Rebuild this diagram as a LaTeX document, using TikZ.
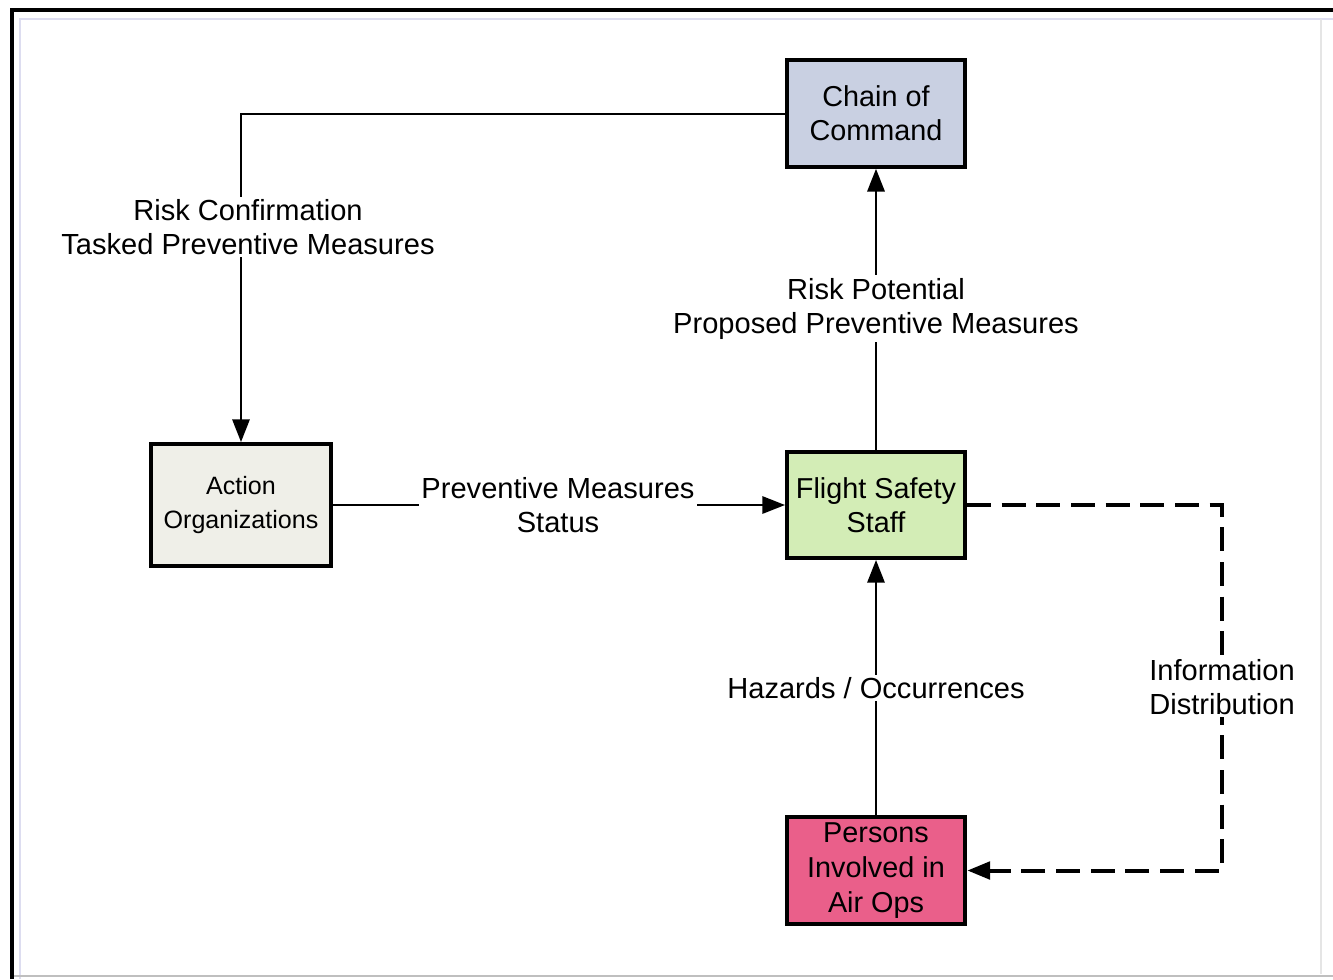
\documentclass[tikz,border=0pt]{standalone}
\usepackage{fontspec}
\setmainfont{Liberation Sans}
\usetikzlibrary{arrows.meta}
\definecolor{cmdfill}{HTML}{C9D0E2}
\definecolor{actfill}{HTML}{EFEFE8}
\definecolor{fssfill}{HTML}{D3EDB6}
\definecolor{perfill}{HTML}{EA5F8A}
\definecolor{innerline}{HTML}{DDDDF0}
\begin{document}
\begin{tikzpicture}[x=0.75pt,y=-0.75pt,
  box/.style={draw=black,line width=3pt,align=center,inner sep=0pt,font=\fontsize{21.6}{25.5}\selectfont},
  conn/.style={line width=1.5pt,-{Triangle[length=17pt,width=13pt]}},
  dconn/.style={line width=3pt,dash pattern=on 18pt off 8pt,-{Triangle[length=17pt,width=13pt]}},
  lbl/.style={fill=white,align=center,inner sep=2pt,font=\fontsize{21.8}{25.5}\selectfont}]
\useasboundingbox (0,0) rectangle (1333,979);
\fill[white] (0,0) rectangle (1333,979);
% frame
\draw[innerline,line width=2.2pt] (20,979) -- (20,19) -- (1333,19);
\draw[black!25,line width=1.5pt] (14,976) -- (1333,976);
\draw[black!10,line width=1pt] (1321,19) -- (1321,974);
\draw[black,line width=3.2pt] (12,979) -- (12,10) -- (1333,10);
% boxes
\node[box,fill=cmdfill,minimum width=133.5pt,minimum height=80pt] (cmd) at (876,113.5) {Chain of\\Command};
\node[box,fill=actfill,minimum width=135pt,minimum height=91.5pt,font=\fontsize{18.8}{25.5}\selectfont] (act) at (241,505) {Action\\Organizations};
\node[box,fill=fssfill,minimum width=133.5pt,minimum height=79.5pt] (fss) at (876,505) {Flight Safety\\Staff};
\node[box,fill=perfill,minimum width=134pt,minimum height=80pt,font=\fontsize{21.6}{26.2}\selectfont] (per) at (876,870.5) {Persons\\Involved in\\Air Ops};
% connectors
\coordinate (c1) at (act.north |- cmd.west);
\draw[conn] (cmd.west) -- (c1) -- (act.north);
\node[lbl] (l1) at (248,227) {Risk Confirmation\\Tasked Preventive Measures};
\draw[conn] (fss.north) -- (cmd.south);
\node[lbl] (l2) at (876,308.5) {Risk Potential\\Proposed Preventive Measures};
\draw[conn] (act.east) -- (fss.west);
\node[lbl] (l3) at (558,505) {Preventive Measures\\Status};
\draw[conn] (per.north) -- (fss.south);
\node[lbl] (l4) at (876,688) {Hazards / Occurrences};
\coordinate (c2) at (1222,505);
\draw[dconn] (fss.east) -- (c2) |- (per.east);
\node[lbl] (l5) at (1222,687) {Information\\Distribution};
\end{tikzpicture}
\end{document}
